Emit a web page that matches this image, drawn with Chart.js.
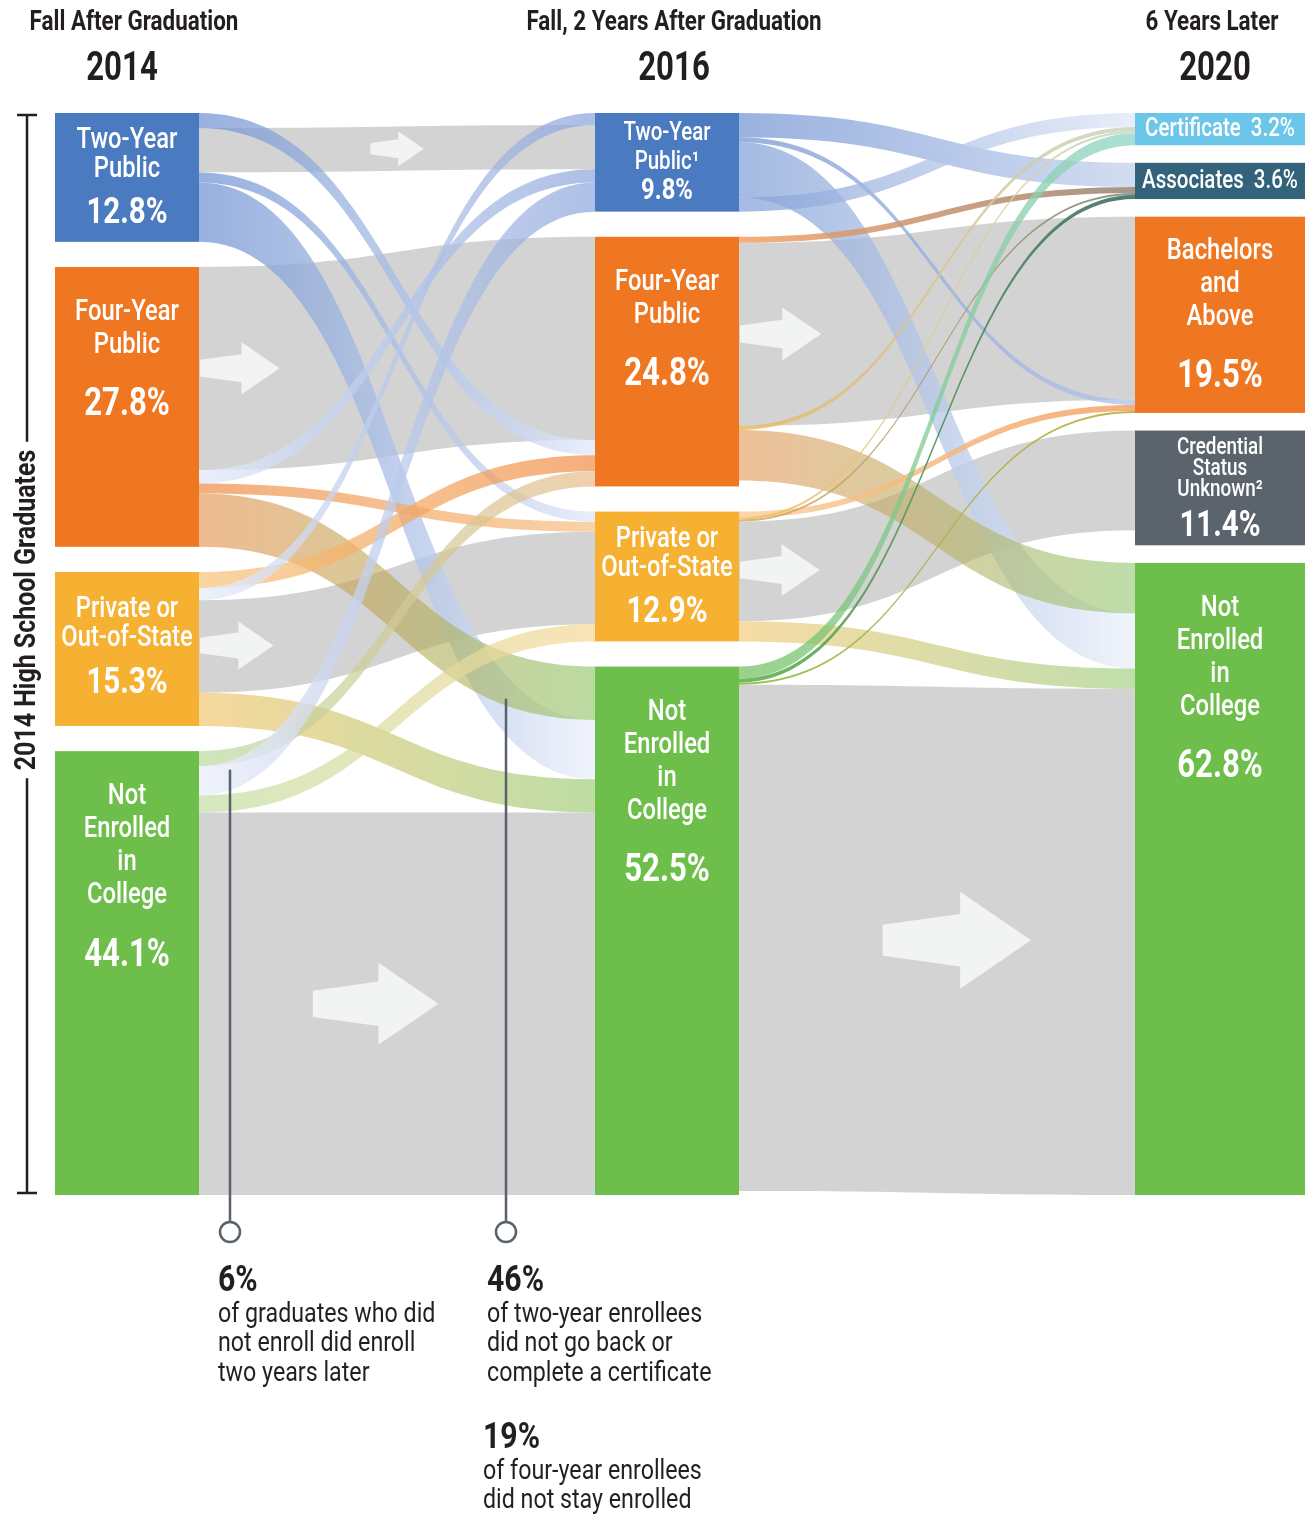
<!DOCTYPE html>
<html><head><meta charset="utf-8">
<script src="https://cdn.jsdelivr.net/npm/chart.js@4.4.1/dist/chart.umd.min.js"></script>
<style>
html,body{margin:0;padding:0;background:#fff;}
#wrap{position:relative;width:1312px;height:1515px;}
canvas{display:block;}
</style></head><body>
<div id="wrap"><canvas id="c" width="1312" height="1515"></canvas></div>
<script>
// ---------------- DATA ----------------
const columnTitles = ['Fall After Graduation', 'Fall, 2 Years After Graduation', '6 Years Later'];
const columnYears  = ['2014', '2016', '2020'];

const nodeIds     = ['tw14','fo14','pr14','ne14', 'tw16','fo16','pr16','ne16', 'ce20','as20','ba20','un20','ne20'];
const nodeColumn  = [0,0,0,0, 1,1,1,1, 2,2,2,2,2];
const nodeValues  = [12.8, 27.8, 15.3, 44.1,  9.8, 24.8, 12.9, 52.5,  3.2, 3.6, 19.5, 11.4, 62.8];
const nodeLabels  = [
  ['Two-Year','Public'], ['Four-Year','Public'], ['Private or','Out-of-State'], ['Not','Enrolled','in','College'],
  ['Two-Year','Public\u00B9'], ['Four-Year','Public'], ['Private or','Out-of-State'], ['Not','Enrolled','in','College'],
  ['Certificate'], ['Associates'], ['Bachelors','and','Above'], ['Credential','Status','Unknown\u00B2'], ['Not','Enrolled','in','College']
];

// flows (percent of all 2014 graduates); listed in stacking order at each source
const flowFrom = [
  'tw14','tw14','tw14','tw14',
  'fo14','fo14','fo14','fo14',
  'pr14','pr14','pr14','pr14',
  'ne14','ne14','ne14','ne14',
  'tw16','tw16','tw16','tw16',
  'fo16','fo16','fo16','fo16',
  'pr16','pr16','pr16','pr16','pr16',
  'ne16','ne16','ne16','ne16'
];
const flowTo = [
  'fo16','tw16','pr16','ne16',
  'fo16','tw16','pr16','ne16',
  'fo16','tw16','pr16','ne16',
  'fo16','tw16','pr16','ne16',
  'as20','ba20','ne20','ce20',
  'as20','ba20','ce20','ne20',
  'ba20','ce20','as20','un20','ne20',
  'ce20','as20','ba20','ne20'
];
const flowValues = [
  1.5, 4.4, 1.0, 5.9,
  20.2, 1.3, 1.0, 5.3,
  1.6, 1.2, 9.2, 3.3,
  1.5, 2.9, 1.7, 38.0,
  2.4, 0.5, 5.5, 1.4,
  0.6, 18.2, 0.4, 5.0,
  0.6, 0.2, 0.2, 9.9, 2.0,
  1.2, 0.4, 0.2, 50.3
];
// order of incoming flows (by source) at each target
const targetOrder = {
  tw16: ['pr14','tw14','fo14','ne14'],
  fo16: ['fo14','tw14','pr14','ne14'],
  pr16: ['tw14','fo14','pr14','ne14'],
  ne16: ['fo14','tw14','pr14','ne14'],
  ce20: ['tw16','fo16','pr16','ne16'],
  as20: ['tw16','fo16','pr16','ne16'],
  ba20: ['fo16','tw16','pr16','ne16'],
  un20: ['pr16'],
  ne20: ['fo16','tw16','pr16','ne16']
};

const annotations = [
  {big:'6%',  lines:['of graduates who did','not enroll did enroll','two years later'], flow:['ne14','tw16']},
  {big:'46%', lines:['of two-year enrollees','did not go back or','complete a certificate'], flow:['tw14','ne16']},
  {big:'19%', lines:['of four-year enrollees','did not stay enrolled'], flow:null}
];
const bracketLabel = '2014 High School Graduates';

// ---------------- STYLE ----------------
const FONT = 'Roboto, "Liberation Sans", "DejaVu Sans", sans-serif';
const TEXT_DARK = '#231f20';
const GREY = '#d3d3d3';
const colWidthPx = [144, 144, 170];
const ySpan = 107.5;
const nodeColors = {
  tw14:'#4a7abf', fo14:'#f07722', pr14:'#f6b132', ne14:'#6dbe4a',
  tw16:'#4a7abf', fo16:'#f07722', pr16:'#f6b132', ne16:'#6dbe4a',
  ce20:'#6cc6ea', as20:'#33637a', ba20:'#f07722', un20:'#5b646d', ne20:'#6dbe4a'
};
const nodeLabelStyle = {
  tw14:'cmp', fo14:'big', pr14:'cmp', ne14:'big',
  tw16:'small', fo16:'big', pr16:'cmp', ne16:'big',
  ce20:'inline', as20:'inline', ba20:'big', un20:'tiny', ne20:'big'
};
const LABEL_STYLES = {
  big:   {font:29, lineH:33, pctFont:38, pctGap:60, maxOff:46},
  cmp:   {font:29, lineH:29, pctFont:36, pctGap:45, maxOff:38},
  small: {font:25, lineH:29, pctFont:29, pctGap:29, maxOff:30},
  tiny:  {font:23, lineH:21, pctFont:36, pctGap:37, maxOff:18},
  inline:{font:25}
};
const SX = 0.82; // horizontal condensing of all text
const BLUE = 'rgba(112,146,210,0.72)', BLUE_PALE = 'rgba(226,233,248,0.8)';
const flowColors = {
  'tw14>fo16':[BLUE, BLUE_PALE], 'tw14>tw16':[GREY,GREY], 'tw14>pr16':[BLUE, BLUE_PALE], 'tw14>ne16':[BLUE, 'rgba(238,242,251,0.85)'],
  'fo14>fo16':[GREY,GREY], 'fo14>tw16':['rgba(228,234,249,0.8)','rgba(140,165,220,0.7)'], 'fo14>pr16':['rgba(240,140,70,0.7)','rgba(246,195,135,0.75)'], 'fo14>ne16':['rgba(230,140,70,0.6)','rgba(140,195,100,0.6)'],
  'pr14>fo16':['rgba(248,200,130,0.75)','rgba(240,140,70,0.7)'], 'pr14>tw16':['rgba(232,238,250,0.8)','rgba(135,162,220,0.7)'], 'pr14>pr16':[GREY,GREY], 'pr14>ne16':['rgba(240,190,90,0.6)','rgba(145,198,105,0.6)'],
  'ne14>fo16':['rgba(185,218,160,0.7)','rgba(232,188,140,0.7)'], 'ne14>tw16':['rgba(236,240,250,0.8)','rgba(140,165,220,0.7)'], 'ne14>pr16':['rgba(195,222,165,0.7)','rgba(246,216,150,0.7)'], 'ne14>ne16':[GREY,GREY],
  'tw16>as20':['rgba(120,152,212,0.75)','rgba(200,212,238,0.8)'], 'tw16>ba20':['rgba(120,152,212,0.75)','rgba(180,196,234,0.8)'], 'tw16>ne20':['rgba(130,160,215,0.72)','rgba(238,242,251,0.85)'], 'tw16>ce20':['rgba(130,160,215,0.72)','rgba(228,235,248,0.85)'],
  'fo16>as20':['rgba(244,160,100,0.85)','rgba(150,130,115,0.85)'], 'fo16>ba20':[GREY,GREY], 'fo16>ce20':['rgba(232,184,100,0.85)','rgba(200,212,195,0.85)'], 'fo16>ne20':['rgba(228,150,85,0.6)','rgba(145,198,110,0.6)'],
  'pr16>ba20':['rgba(248,205,150,0.8)','rgba(244,160,100,0.85)'], 'pr16>ce20':['rgba(238,190,90,0.85)','rgba(200,215,190,0.85)'], 'pr16>as20':['rgba(220,170,95,0.85)','rgba(120,130,120,0.85)'], 'pr16>un20':[GREY,GREY], 'pr16>ne20':['rgba(242,195,105,0.6)','rgba(150,200,115,0.6)'],
  'ne16>ce20':['rgba(110,190,90,0.7)','rgba(150,215,205,0.8)'], 'ne16>as20':['rgba(100,180,80,0.9)','rgba(60,110,100,0.9)'], 'ne16>ba20':['rgba(140,190,70,0.9)','rgba(190,170,60,0.9)'], 'ne16>ne20':[GREY,GREY]
};
// white arrows on the grey "stayed" bands: [from, to, left position (fraction of gap), height px]
const arrowSpecs = [
  ['tw14','tw16',0.43,35], ['fo14','fo16',0.0,52], ['pr14','pr16',0.0,48], ['ne14','ne16',0.285,82],
  ['fo16','ba20',0.0,53], ['pr16','un20',0.0,52], ['ne16','ne20',0.36,97]
];

// ---------------- LAYOUT ----------------
function computeLayout() {
  const idx = {}; nodeIds.forEach((id,i)=>idx[id]=i);
  const nodes = nodeIds.map((id,i)=>({id, col:nodeColumn[i], value:nodeValues[i]}));
  for (let c=0;c<3;c++){
    const list = nodes.filter(n=>n.col===c);
    const sum = list.reduce((a,n)=>a+n.value,0);
    const gap = (ySpan - sum)/(list.length-1);
    let yy = 0;
    list.forEach(n=>{ n.y0=yy; n.y1=yy+n.value; yy=n.y1+gap; n.outOff=n.y0; n.inOff=n.y0; });
  }
  const flows = flowFrom.map((f,k)=>({from:f,to:flowTo[k],value:flowValues[k],k}));
  flows.forEach(fl=>{ const s=nodes[idx[fl.from]]; fl.sy0=s.outOff; fl.sy1=s.outOff+fl.value; s.outOff=fl.sy1; });
  nodes.forEach(n=>{
    const inc = flows.filter(fl=>fl.to===n.id);
    const order = targetOrder[n.id] || [];
    inc.sort((a,b)=>{
      const ra = order.indexOf(a.from), rb = order.indexOf(b.from);
      return (ra<0?99:ra)-(rb<0?99:rb) || a.k-b.k;
    });
    inc.forEach(fl=>{ fl.ty0=n.inOff; fl.ty1=n.inOff+fl.value; n.inOff=fl.ty1; });
  });
  return {nodes, flows, idx};
}

function bez(p0,p1,p2,p3,u){ const m=1-u; return m*m*m*p0+3*m*m*u*p1+3*m*u*u*p2+u*u*u*p3; }
function flowCenterAt(fp, xq){
  let lo=0, hi=1;
  for(let i=0;i<40;i++){ const mid=(lo+hi)/2; const xv=bez(fp.sx,fp.xm,fp.xm,fp.tx,mid); if(xv<xq) lo=mid; else hi=mid; }
  const u=(lo+hi)/2;
  const yt=bez(fp.sy0,fp.sy0,fp.ty0,fp.ty0,u), yb=bez(fp.sy1,fp.sy1,fp.ty1,fp.ty1,u);
  return {y:(yt+yb)/2, w:yb-yt};
}
function txt(ctx, s, x, y, font, sx){
  ctx.save(); ctx.translate(x,y); ctx.scale(sx===undefined?SX:sx,1); ctx.font=font; ctx.fillText(s,0,0); ctx.restore();
}
function txtW(ctx, s, font, sx){ ctx.save(); ctx.font=font; const w=ctx.measureText(s).width; ctx.restore(); return w*(sx===undefined?SX:sx); }

const sankeyPlugin = {
  id:'sankeyDraw',
  afterDatasetsDraw(chart){
    const ctx = chart.ctx, xs = chart.scales.x, ys = chart.scales.y;
    const {nodes, flows, idx} = computeLayout();
    nodes.forEach(n=>{
      n.px0 = xs.getPixelForValue(n.col); n.px1 = n.px0 + colWidthPx[n.col];
      n.py0 = ys.getPixelForValue(n.y0); n.py1 = ys.getPixelForValue(n.y1);
    });
    flows.forEach(fl=>{
      const s=nodes[idx[fl.from]], t=nodes[idx[fl.to]];
      fl.p = {sx:s.px1, tx:t.px0, xm:(s.px1+t.px0)/2,
        sy0:ys.getPixelForValue(fl.sy0), sy1:ys.getPixelForValue(fl.sy1),
        ty0:ys.getPixelForValue(fl.ty0), ty1:ys.getPixelForValue(fl.ty1)};
      const c = flowColors[fl.from+'>'+fl.to] || [GREY,GREY];
      fl.grey = (c[0]===GREY);
      fl.colors = c;
    });
    ctx.save();
    const drawFlow = fl=>{
      const p=fl.p;
      let sy1=p.sy1, ty1=p.ty1;
      if (sy1-p.sy0<2){ sy1=p.sy0+2; ty1=p.ty0+2; }
      ctx.beginPath();
      ctx.moveTo(p.sx,p.sy0);
      ctx.bezierCurveTo(p.xm,p.sy0,p.xm,p.ty0,p.tx,p.ty0);
      ctx.lineTo(p.tx,ty1);
      ctx.bezierCurveTo(p.xm,ty1,p.xm,sy1,p.sx,sy1);
      ctx.closePath();
      if (fl.grey) ctx.fillStyle = GREY;
      else { const g=ctx.createLinearGradient(p.sx,0,p.tx,0); g.addColorStop(0,fl.colors[0]); g.addColorStop(1,fl.colors[1]); ctx.fillStyle=g; }
      ctx.fill();
    };
    flows.filter(f=>f.grey).forEach(drawFlow);
    // arrows
    ctx.fillStyle = '#f2f4f3';
    arrowSpecs.forEach(([f,t,lt,h])=>{
      const fl = flows.find(q=>q.from===f && q.to===t); if(!fl) return;
      const p=fl.p; const L = p.sx + 1 + lt*(p.tx-p.sx);
      const tailL = 0.8*h, headL = 0.73*h;
      const c = flowCenterAt(p, L + (tailL+headL)/2).y;
      ctx.beginPath();
      ctx.moveTo(L, c-0.16*h);
      ctx.lineTo(L+tailL, c-0.27*h);
      ctx.lineTo(L+tailL, c-0.5*h);
      ctx.lineTo(L+tailL+headL, c);
      ctx.lineTo(L+tailL, c+0.5*h);
      ctx.lineTo(L+tailL, c+0.27*h);
      ctx.lineTo(L, c+0.16*h);
      ctx.closePath(); ctx.fill();
    });
    flows.filter(f=>!f.grey).forEach(drawFlow);
    // nodes
    nodes.forEach(n=>{ ctx.fillStyle=nodeColors[n.id]; ctx.fillRect(n.px0,n.py0,n.px1-n.px0,n.py1-n.py0); });
    // node labels
    ctx.fillStyle='#fff'; ctx.textAlign='center'; ctx.textBaseline='middle';
    nodes.forEach((n,i)=>{
      const st = LABEL_STYLES[nodeLabelStyle[n.id]];
      const lines = nodeLabels[i]; const pct = nodeValues[i].toFixed(1)+'%';
      const cx=(n.px0+n.px1)/2, h=n.py1-n.py0;
      if (st===LABEL_STYLES.inline){
        const f1 = `500 ${st.font}px ${FONT}`, f2 = `500 ${st.font}px ${FONT}`;
        const w1 = txtW(ctx, lines[0], f1), w2 = txtW(ctx, pct, f2);
        const gap = 10, tot = w1+gap+w2, x0 = cx - tot/2, cy=(n.py0+n.py1)/2+1;
        ctx.textAlign='left';
        txt(ctx, lines[0], x0, cy, f1);
        txt(ctx, pct, x0+w1+gap, cy, f2);
        ctx.textAlign='center';
        return;
      }
      const blockH = (lines.length-1)*st.lineH + st.pctGap;
      const off = Math.min((h-blockH)/2, st.maxOff);
      const yy = n.py0 + off;
      lines.forEach((ln,j)=>{ txt(ctx, ln, cx, yy + j*st.lineH, `500 ${st.font}px ${FONT}`); });
      txt(ctx, pct, cx, yy + (lines.length-1)*st.lineH + st.pctGap, `bold ${st.pctFont}px ${FONT}`);
    });
    // column headers
    ctx.fillStyle=TEXT_DARK;
    [0,1,2].forEach(c=>{
      const n = nodes.find(q=>q.col===c);
      const cx=(n.px0+n.px1)/2 + (c===0?7:(c===1?7:-8));
      txt(ctx, columnTitles[c], cx, 23, `bold 28px ${FONT}`, 0.8);
      txt(ctx, columnYears[c], cx - (c===0?12:0) + (c===2?3:0), 70, `bold 41px ${FONT}`, 0.76);
    });
    // left bracket
    const col0 = nodes.filter(q=>q.col===0);
    const bTop = col0[0].py0+2, bBot = col0[col0.length-1].py1-2, bx = 27;
    const bf = `bold 29px ${FONT}`;
    const tw = txtW(ctx, bracketLabel, bf, 0.86);
    const bMid = (bTop+bBot)/2 - 44;
    ctx.strokeStyle=TEXT_DARK; ctx.lineWidth=2.5;
    ctx.beginPath();
    ctx.moveTo(17,bTop); ctx.lineTo(37,bTop);
    ctx.moveTo(bx,bTop); ctx.lineTo(bx,bMid-tw/2-8);
    ctx.moveTo(bx,bMid+tw/2+8); ctx.lineTo(bx,bBot);
    ctx.moveTo(17,bBot); ctx.lineTo(37,bBot);
    ctx.stroke();
    ctx.save(); ctx.translate(bx+1,bMid); ctx.rotate(-Math.PI/2);
    txt(ctx, bracketLabel, 0, 0, bf, 0.86); ctx.restore();
    // annotations
    const annX = [230, 506], annBase = 1232;
    ctx.strokeStyle='#59626b'; ctx.lineWidth=2.5;
    annotations.forEach((a,ai)=>{
      if (!a.flow) return;
      const fl = flows.find(q=>q.from===a.flow[0] && q.to===a.flow[1]);
      const topY = flowCenterAt(fl.p, annX[ai]).y - 6;
      ctx.beginPath(); ctx.moveTo(annX[ai], topY); ctx.lineTo(annX[ai], annBase-10); ctx.stroke();
      ctx.beginPath(); ctx.arc(annX[ai], annBase, 10, 0, Math.PI*2); ctx.fillStyle='#fff'; ctx.fill(); ctx.stroke();
    });
    const annPos = [[218,1282],[487,1282],[483,1439]];
    ctx.textAlign='left'; ctx.fillStyle=TEXT_DARK;
    annotations.forEach((a,ai)=>{
      const [ax,ay]=annPos[ai];
      txt(ctx, a.big, ax, ay, `bold 36px ${FONT}`, 0.84);
      a.lines.forEach((ln,j)=>txt(ctx, ln, ax, ay+33+j*29.5, `27px ${FONT}`, 0.86));
    });
    ctx.restore();
  }
};

new Chart(document.getElementById('c'), {
  type:'scatter',
  data:{datasets:[{data:[], showLine:false}]},
  options:{
    responsive:false, animation:false, devicePixelRatio:1,
    layout:{padding:{left:55, right:177, top:113, bottom:320}},
    scales:{
      x:{type:'linear', min:0, max:2, display:false},
      y:{type:'linear', min:0, max:ySpan, reverse:true, display:false}
    },
    plugins:{legend:{display:false}, tooltip:{enabled:false}}
  },
  plugins:[sankeyPlugin]
});
</script>
</body></html>
